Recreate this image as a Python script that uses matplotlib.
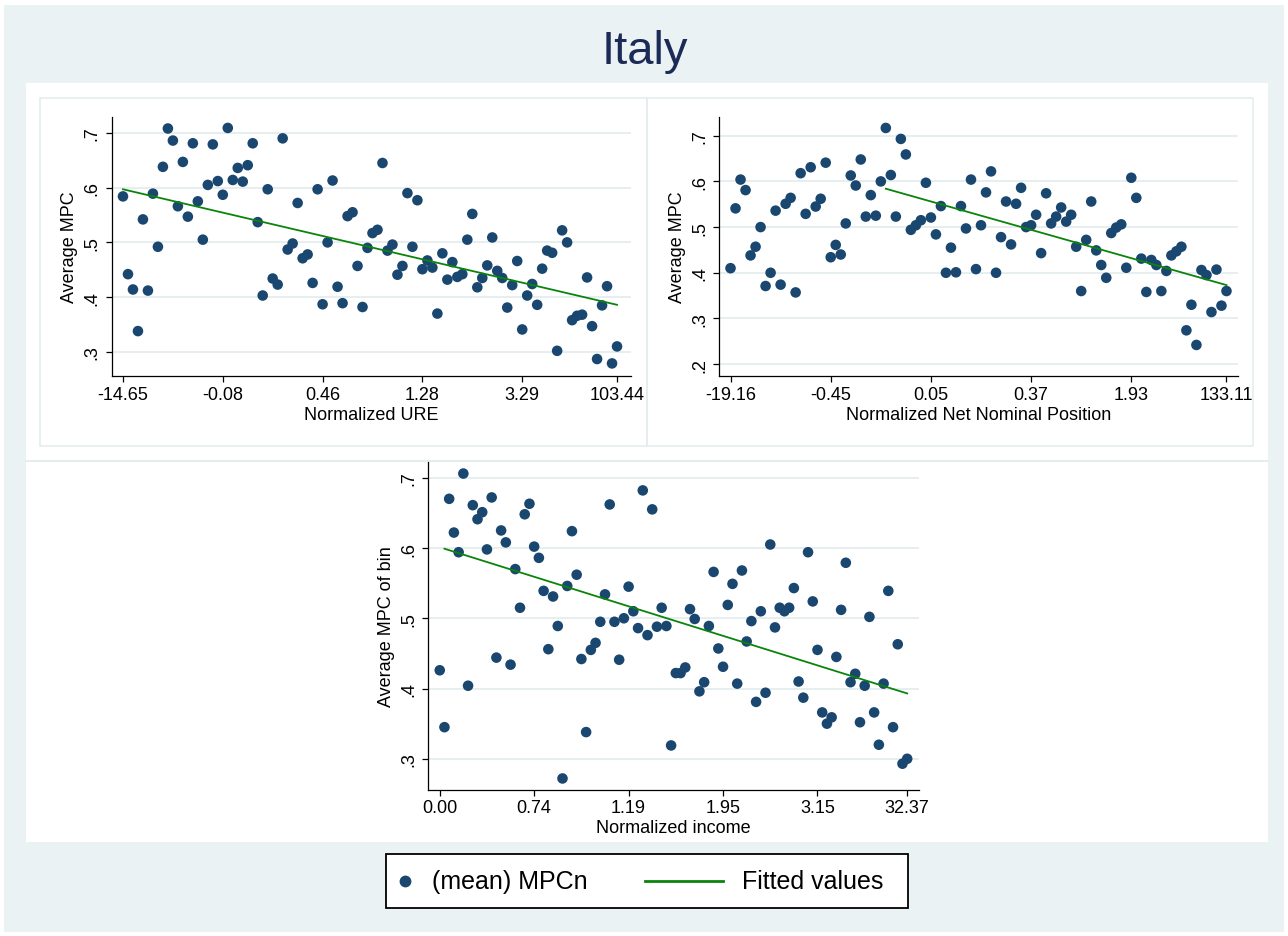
import numpy as np
import matplotlib
matplotlib.use('Agg')
import matplotlib.pyplot as plt
from matplotlib.patches import Rectangle

plt.rcParams['font.family'] = ['Liberation Sans', 'DejaVu Sans']

# ---------------- data ----------------
bins = np.arange(1, 101)
tick_bins = [1, 21, 41, 61, 81, 100]

ure_tick_labels = ['-14.65', '-0.08', '0.46', '1.28', '3.29', '103.44']
nnp_tick_labels = ['-19.16', '-0.45', '0.05', '0.37', '1.93', '133.11']
inc_tick_labels = ['0.00', '0.74', '1.19', '1.95', '3.15', '32.37']

mpc_ure = [0.584, 0.442, 0.414, 0.338, 0.542, 0.412, 0.589, 0.492, 0.638, 0.708,
           0.686, 0.566, 0.647, 0.547, 0.681, 0.575, 0.505, 0.605, 0.679, 0.612,
           0.587, 0.709, 0.614, 0.636, 0.611, 0.641, 0.681, 0.537, 0.403, 0.597,
           0.434, 0.423, 0.690, 0.487, 0.498, 0.572, 0.471, 0.478, 0.426, 0.597,
           0.387, 0.500, 0.613, 0.419, 0.389, 0.548, 0.555, 0.457, 0.382, 0.490,
           0.517, 0.523, 0.645, 0.485, 0.496, 0.441, 0.457, 0.590, 0.492, 0.577,
           0.451, 0.467, 0.454, 0.370, 0.480, 0.432, 0.464, 0.437, 0.442, 0.505,
           0.552, 0.418, 0.435, 0.458, 0.509, 0.448, 0.435, 0.381, 0.422, 0.466,
           0.341, 0.403, 0.424, 0.386, 0.452, 0.485, 0.481, 0.302, 0.522, 0.500,
           0.358, 0.366, 0.368, 0.436, 0.347, 0.287, 0.385, 0.420, 0.279, 0.310]

mpc_nnp = [0.410, 0.541, 0.604, 0.581, 0.438, 0.457, 0.500, 0.371, 0.400, 0.536,
           0.374, 0.551, 0.564, 0.357, 0.618, 0.529, 0.631, 0.545, 0.562, 0.641,
           0.434, 0.461, 0.440, 0.508, 0.613, 0.591, 0.648, 0.523, 0.570, 0.525,
           0.600, 0.717, 0.614, 0.523, 0.693, 0.659, 0.494, 0.504, 0.515, 0.597,
           0.521, 0.484, 0.546, 0.400, 0.455, 0.401, 0.546, 0.497, 0.604, 0.408,
           0.504, 0.576, 0.622, 0.400, 0.478, 0.556, 0.462, 0.551, 0.586, 0.500,
           0.504, 0.527, 0.443, 0.574, 0.508, 0.523, 0.543, 0.512, 0.527, 0.457,
           0.360, 0.472, 0.556, 0.449, 0.417, 0.389, 0.487, 0.499, 0.506, 0.411,
           0.608, 0.564, 0.431, 0.358, 0.428, 0.417, 0.360, 0.404, 0.438, 0.447,
           0.457, 0.274, 0.330, 0.242, 0.406, 0.395, 0.314, 0.407, 0.328, 0.360]

mpc_inc = [0.426, 0.345, 0.670, 0.622, 0.594, 0.706, 0.404, 0.661, 0.641, 0.651,
           0.598, 0.672, 0.444, 0.625, 0.608, 0.434, 0.570, 0.515, 0.648, 0.663,
           0.602, 0.586, 0.539, 0.456, 0.531, 0.489, 0.272, 0.546, 0.624, 0.562,
           0.442, 0.338, 0.455, 0.465, 0.495, 0.534, 0.662, 0.495, 0.441, 0.500,
           0.545, 0.510, 0.486, 0.682, 0.476, 0.655, 0.488, 0.515, 0.489, 0.319,
           0.422, 0.422, 0.430, 0.513, 0.499, 0.396, 0.409, 0.489, 0.566, 0.457,
           0.431, 0.519, 0.549, 0.407, 0.568, 0.467, 0.496, 0.381, 0.510, 0.394,
           0.605, 0.487, 0.515, 0.510, 0.515, 0.543, 0.410, 0.387, 0.594, 0.524,
           0.455, 0.366, 0.350, 0.359, 0.445, 0.512, 0.579, 0.409, 0.421, 0.352,
           0.404, 0.502, 0.366, 0.320, 0.407, 0.539, 0.345, 0.463, 0.293, 0.300]

# fitted values (endpoints of the linear fit)
fit_ure_x, fit_ure_y = [1, 100], [0.597, 0.386]
fit_nnp_x, fit_nnp_y = [32, 100], [0.584, 0.373]
fit_inc_x, fit_inc_y = [2, 100], [0.599, 0.393]

# ---------------- style ----------------
W, H = 1288, 937
BG = '#EAF2F3'
GRID = '#E5EDEF'
NAVY = '#1A476F'
GREEN = '#0A840A'
TXT = 13

fig = plt.figure(figsize=(W / 100, H / 100), dpi=100)
fig.patch.set_facecolor('white')

bg = fig.add_axes([0, 0, 1, 1], zorder=0)
bg.set_xlim(0, W)
bg.set_ylim(H, 0)
bg.axis('off')
bg.add_patch(Rectangle((4, 6), 1280, 927, facecolor=BG, edgecolor='none'))
bg.add_patch(Rectangle((26, 84), 1242, 759, facecolor='white', edgecolor='none'))
bg.add_patch(Rectangle((40, 99), 607, 348, facecolor='none', edgecolor=GRID, lw=1.2))
bg.add_patch(Rectangle((647, 99), 606, 348, facecolor='none', edgecolor=GRID, lw=1.2))
bg.plot([26, 1268], [462, 462], color=GRID, lw=1.5)

bg.text(645, 64, 'Italy', fontsize=34, color='#1C2A57', ha='center', va='baseline')

# legend drawn manually
bg.add_patch(Rectangle((386, 855), 522, 54, facecolor='white', edgecolor='black', lw=1.3))
bg.plot([405], [882], 'o', color=NAVY, markersize=8.5, mec='none')
bg.text(432, 882, '(mean) MPCn', fontsize=18, ha='left', va='center')
bg.plot([645, 723], [882, 882], color=GREEN, lw=2.0)
bg.text(742, 882, 'Fitted values', fontsize=18, ha='left', va='center')


def pbox(l, t, r, b):
    return [l / W, 1 - b / H, (r - l) / W, (b - t) / H]


def panel(box, y, fx, fy, xlabels, xtitle, ytitle, xlim, ylim, yticks):
    ax = fig.add_axes(pbox(*box), zorder=1)
    ax.set_facecolor('none')
    ax.scatter(bins, y, s=58, color=NAVY, edgecolors='none', zorder=3)
    ax.plot(fx, fy, color=GREEN, lw=1.3, zorder=4)
    ax.set_xlim(*xlim)
    ax.set_ylim(*ylim)
    ax.set_xticks(tick_bins)
    ax.set_xticklabels(xlabels, fontsize=TXT)
    ax.set_yticks(yticks)
    ax.set_yticklabels([('%.1f' % v).lstrip('0') for v in yticks],
                       fontsize=TXT, rotation=90, va='center')
    for s in ['top', 'right']:
        ax.spines[s].set_visible(False)
    for s in ['left', 'bottom']:
        ax.spines[s].set_linewidth(0.9)
        ax.spines[s].set_color('black')
    ax.tick_params(direction='out', length=4, width=0.9, pad=3)
    ax.tick_params(axis='y', pad=4)
    ax.yaxis.grid(True, color=GRID, lw=1.3)
    ax.set_axisbelow(True)
    ax.set_xlabel(xtitle, fontsize=TXT, labelpad=2)
    ax.set_ylabel(ytitle, fontsize=TXT, labelpad=4)
    return ax


panel((111.5, 118, 631, 377), mpc_ure, fit_ure_x, fit_ure_y, ure_tick_labels,
      'Normalized URE', 'Average MPC', (-1.3, 102.8), (0.256, 0.729),
      [0.3, 0.4, 0.5, 0.6, 0.7])
panel((719.5, 118, 1238, 377), mpc_nnp, fit_nnp_x, fit_nnp_y, nnp_tick_labels,
      'Normalized Net Nominal Position', 'Average MPC', (-1.2, 102.3), (0.174, 0.741),
      [0.2, 0.3, 0.4, 0.5, 0.6, 0.7])
panel((428.4, 463.3, 919, 790.7), mpc_inc, fit_inc_x, fit_inc_y, inc_tick_labels,
      'Normalized income', 'Average MPC of bin', (-1.4, 102.5), (0.256, 0.722),
      [0.3, 0.4, 0.5, 0.6, 0.7])

fig.savefig('out.png', dpi=100, facecolor='white')
